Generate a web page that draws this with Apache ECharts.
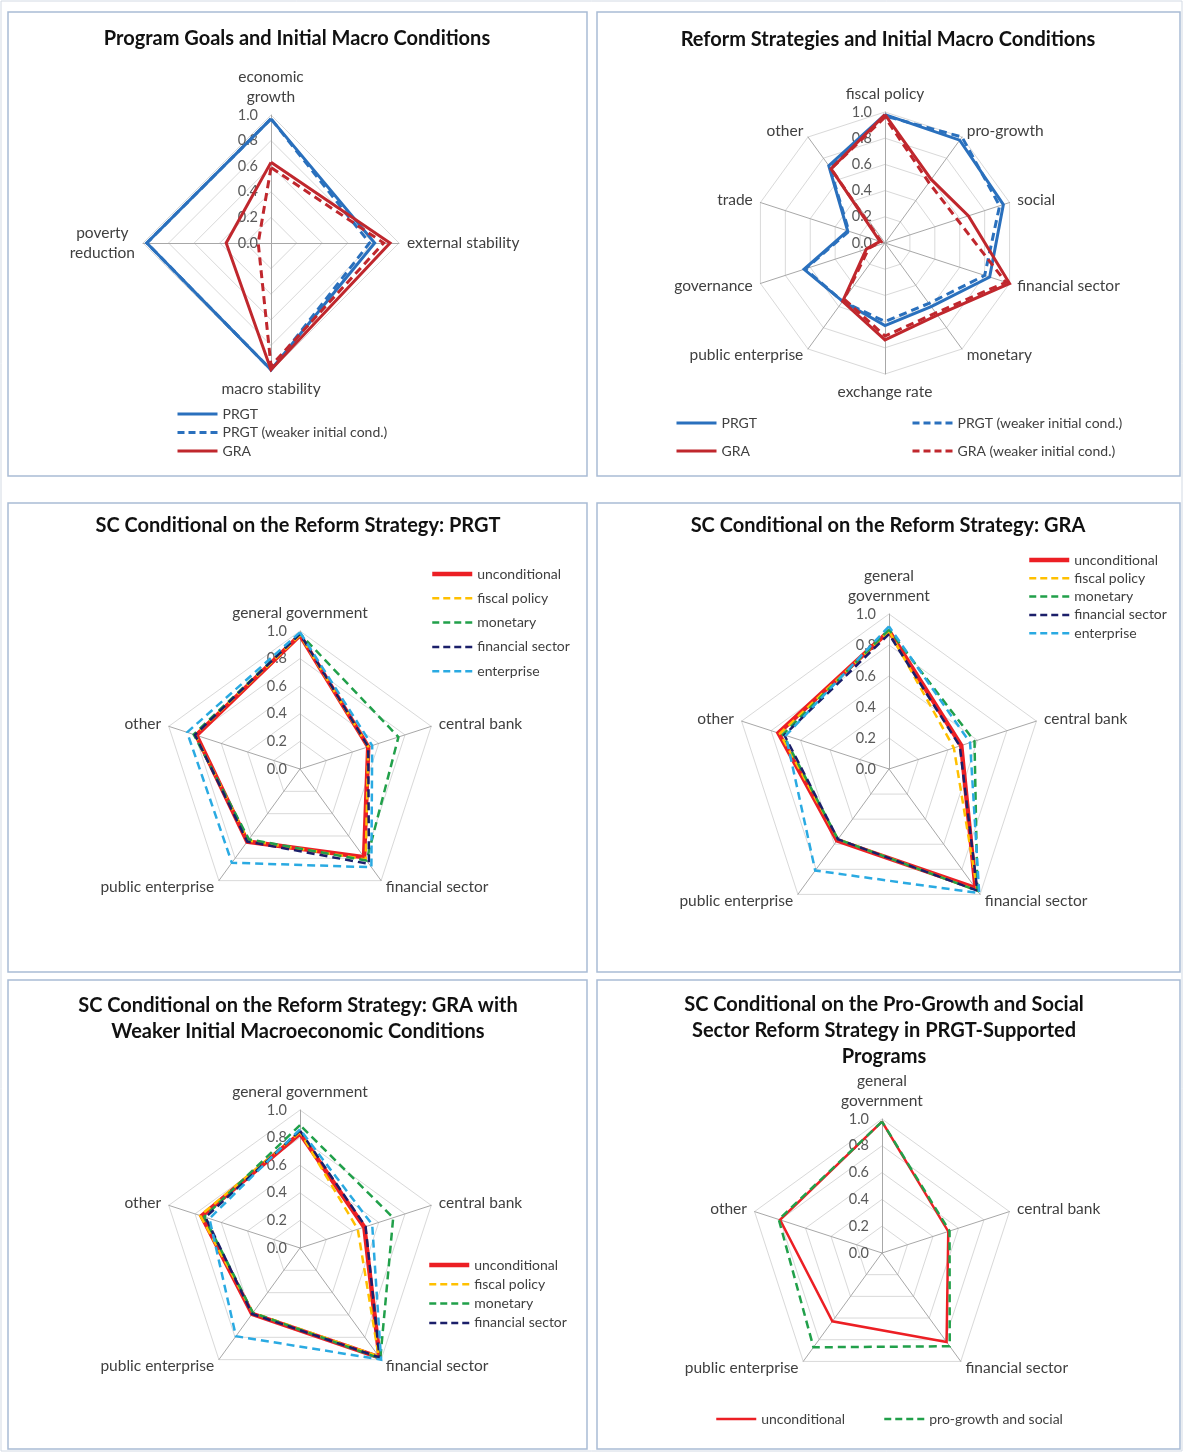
<!DOCTYPE html>
<html>
<head>
<meta charset="utf-8">
<title>Program Goals, Reform Strategies and Structural Conditionality</title>
<script src="https://cdn.jsdelivr.net/npm/echarts@6/dist/echarts.min.js"></script>
<style>
  html, body { margin: 0; padding: 0; background: #ffffff; }
  #chart { width: 1183px; height: 1452px; }
</style>
</head>
<body>
<div id="chart"></div>
<script>
// ---------- data (axes listed clockwise from the top) ----------
const goalAxes = ['economic\ngrowth', 'external stability', 'macro stability', 'poverty\nreduction'];
const goalPRGT = [0.97, 0.81, 0.99, 0.97];
const goalPRGTWeak = [0.97, 0.77, 0.99, 0.97];
const goalGRA = [0.63, 0.93, 0.99, 0.35];
const goalGRAWeak = [0.59, 0.88, 0.96, 0.10];

const reformAxes = ['fiscal policy', 'pro-growth', 'social', 'financial sector', 'monetary',
  'exchange rate', 'public enterprise', 'governance', 'trade', 'other'];
const reformPRGT = [0.98, 0.97, 0.95, 0.84, 0.60, 0.63, 0.55, 0.65, 0.30, 0.73];
const reformPRGTWeak = [0.97, 1.00, 0.92, 0.80, 0.57, 0.60, 0.55, 0.64, 0.29, 0.72];
const reformGRA = [0.98, 0.60, 0.67, 1.00, 0.68, 0.74, 0.55, 0.15, 0.04, 0.70];
const reformGRAWeak = [0.96, 0.57, 0.58, 0.97, 0.66, 0.71, 0.53, 0.13, 0.03, 0.70];

const scAxes = ['general government', 'central bank', 'financial sector', 'public enterprise', 'other'];
const scAxesWrapped = ['general\ngovernment', 'central bank', 'financial sector', 'public enterprise', 'other'];

const prgtUnconditional = [0.97, 0.52, 0.79, 0.65, 0.79];
const prgtFiscal = [0.97, 0.52, 0.81, 0.64, 0.80];
const prgtMonetary = [0.98, 0.75, 0.82, 0.63, 0.81];
const prgtFinancial = [0.98, 0.52, 0.85, 0.65, 0.80];
const prgtEnterprise = [0.99, 0.55, 0.88, 0.84, 0.86];

const graUnconditional = [0.89, 0.49, 0.95, 0.57, 0.75];
const graFiscal = [0.89, 0.44, 0.97, 0.56, 0.74];
const graMonetary = [0.90, 0.58, 0.97, 0.56, 0.72];
const graFinancial = [0.87, 0.48, 0.97, 0.56, 0.71];
const graEnterprise = [0.92, 0.55, 0.99, 0.81, 0.70];

const weakUnconditional = [0.83, 0.49, 0.98, 0.59, 0.75];
const weakFiscal = [0.84, 0.44, 0.97, 0.58, 0.76];
const weakMonetary = [0.89, 0.71, 0.99, 0.58, 0.73];
const weakFinancial = [0.85, 0.50, 0.98, 0.59, 0.72];
const weakEnterprise = [0.86, 0.55, 1.00, 0.79, 0.69];

const socialUnconditional = [0.98, 0.52, 0.82, 0.63, 0.80];
const socialProGrowth = [0.98, 0.53, 0.86, 0.87, 0.81];

const radarTicks = [0, 0.2, 0.4, 0.6, 0.8, 1.0];

// ---------- styling ----------
const FONT = 'Lato, "Open Sans", sans-serif';
const NAME_SIZE = 15.5;
const C = {
  blue: '#2a70bd', darkRed: '#c0272d', red: '#ec1f24', gold: '#ffc000',
  green: '#21a04a', navy: '#1b1f6a', cyan: '#2aaae2'
};
const DASH = [8, 5];

// ECharts lays indicators out counter-clockwise; keep the first axis on top
// and reverse the rest so the polygons run clockwise.
const cw = a => [a[0]].concat(a.slice(1).reverse());

// Two-line axis names are centred line by line.
const nameFormatter = name => name.indexOf('\n') < 0 ? name
  : name.split('\n').map(s => '{c|' + s + '}').join('\n');

function makeRadar(center, radius, axes) {
  return {
    center: center, radius: radius, startAngle: 90, shape: 'polygon',
    splitNumber: radarTicks.length - 1,
    nameGap: 8,
    indicator: cw(axes).map((name, i) => {
      const ind = { name: name, min: radarTicks[0], max: radarTicks[radarTicks.length - 1] };
      if (i === 0) {
        ind.axisLabel = {
          show: true, margin: 13, color: '#595959', fontFamily: FONT, fontSize: 14.5,
          formatter: v => Number(v).toFixed(1)
        };
      }
      return ind;
    }),
    axisName: {
      color: '#404040', fontFamily: FONT, fontSize: NAME_SIZE, lineHeight: 20,
      formatter: nameFormatter,
      rich: { c: { align: 'center', color: '#404040', fontFamily: FONT, fontSize: NAME_SIZE, lineHeight: 20 } }
    },
    axisLine: { lineStyle: { color: '#a8a8a8', width: 1 } },
    splitLine: { lineStyle: { color: '#d9d9d9', width: 1 } },
    splitArea: { show: false },
    axisTick: { show: false },
    axisLabel: { show: false }
  };
}

// One line per entry: [key, label, values, color, width, dashed]
const panels = [
  {
    radar: makeRadar([271, 243], 128, goalAxes),
    lines: [
      ['g|PRGT', 'PRGT', goalPRGT, C.blue, 3, false],
      ['g|PRGTw', 'PRGT (weaker initial cond.)', goalPRGTWeak, C.blue, 3, true],
      ['g|GRA', 'GRA', goalGRA, C.darkRed, 3, false],
      ['g|GRAw', 'GRA (weaker initial cond.)', goalGRAWeak, C.darkRed, 3, true]
    ],
    legends: [{ keys: ['g|PRGT', 'g|PRGTw', 'g|GRA'], left: 176, top: 406, gap: 2.5 }]
  },
  {
    radar: makeRadar([885, 243], 131, reformAxes),
    lines: [
      ['r|PRGT', 'PRGT', reformPRGT, C.blue, 3, false],
      ['r|PRGTw', 'PRGT (weaker initial cond.)', reformPRGTWeak, C.blue, 3, true],
      ['r|GRA', 'GRA', reformGRA, C.darkRed, 3, false],
      ['r|GRAw', 'GRA (weaker initial cond.)', reformGRAWeak, C.darkRed, 3, true]
    ],
    legends: [
      { keys: ['r|PRGT', 'r|GRA'], left: 675, top: 415, gap: 12 },
      { keys: ['r|PRGTw', 'r|GRAw'], left: 911, top: 415, gap: 12 }
    ]
  },
  {
    radar: makeRadar([300, 769], 138, scAxes),
    lines: [
      ['p|unc', 'unconditional', prgtUnconditional, C.red, 4.5, false],
      ['p|fis', 'fiscal policy', prgtFiscal, C.gold, 2.5, true],
      ['p|mon', 'monetary', prgtMonetary, C.green, 2.5, true],
      ['p|fin', 'financial sector', prgtFinancial, C.navy, 2.5, true],
      ['p|ent', 'enterprise', prgtEnterprise, C.cyan, 2.5, true]
    ],
    legends: [{ keys: ['p|unc', 'p|fis', 'p|mon', 'p|fin', 'p|ent'], left: 430, top: 566, gap: 8.3 }]
  },
  {
    radar: makeRadar([889, 769], 155, scAxesWrapped),
    lines: [
      ['a|unc', 'unconditional', graUnconditional, C.red, 4.5, false],
      ['a|fis', 'fiscal policy', graFiscal, C.gold, 2.5, true],
      ['a|mon', 'monetary', graMonetary, C.green, 2.5, true],
      ['a|fin', 'financial sector', graFinancial, C.navy, 2.5, true],
      ['a|ent', 'enterprise', graEnterprise, C.cyan, 2.5, true]
    ],
    legends: [{ keys: ['a|unc', 'a|fis', 'a|mon', 'a|fin', 'a|ent'], left: 1027, top: 552, gap: 2.3 }]
  },
  {
    radar: makeRadar([300, 1248], 138, scAxes),
    lines: [
      ['w|unc', 'unconditional', weakUnconditional, C.red, 4.5, false],
      ['w|fis', 'fiscal policy', weakFiscal, C.gold, 2.5, true],
      ['w|mon', 'monetary', weakMonetary, C.green, 2.5, true],
      ['w|fin', 'financial sector', weakFinancial, C.navy, 2.5, true],
      ['w|ent', 'enterprise', weakEnterprise, C.cyan, 2.5, true]
    ],
    legends: [{ keys: ['w|unc', 'w|fis', 'w|mon', 'w|fin'], left: 427, top: 1257, gap: 3.3 }]
  },
  {
    radar: makeRadar([882, 1253], 134, scAxesWrapped),
    lines: [
      ['s|unc', 'unconditional', socialUnconditional, C.red, 2.5, false],
      ['s|pgs', 'pro-growth and social', socialProGrowth, C.green, 2.5, true]
    ],
    legends: [{ keys: ['s|unc', 's|pgs'], left: 715, top: 1411, gap: 38, orient: 'horizontal' }]
  }
];

const titles = [
  { text: 'Program Goals and Initial Macro Conditions', x: 297, y: 39 },
  { text: 'Reform Strategies and Initial Macro Conditions', x: 888, y: 40 },
  { text: 'SC Conditional on the Reform Strategy: PRGT', x: 298, y: 526 },
  { text: 'SC Conditional on the Reform Strategy: GRA', x: 888, y: 526 },
  { text: 'SC Conditional on the Reform Strategy: GRA with\nWeaker Initial Macroeconomic Conditions', x: 298, y: 1019 },
  { text: 'SC Conditional on the Pro-Growth and Social\nSector Reform Strategy in PRGT-Supported\nPrograms', x: 884, y: 1031 }
];

const frames = [
  [8, 12, 579, 464], [597, 12, 583, 464],
  [8, 503, 579, 469], [597, 503, 583, 469],
  [8, 980, 579, 469], [597, 980, 583, 469]
];

// ---------- assemble options ----------
const radars = [];
const series = [];
const legends = [];
const lineByKey = {};

panels.forEach((p, ri) => {
  radars.push(p.radar);
  p.lines.forEach((ln, li) => {
    const [key, label, values, color, width, dashed] = ln;
    lineByKey[key] = ln;
    series.push({
      type: 'radar', radarIndex: ri, name: key, symbol: 'none', z: 2 + li,
      silent: true,
      lineStyle: { color: color, width: width, type: dashed ? DASH : 'solid', join: 'miter' },
      itemStyle: { color: color },
      data: [{ name: key, value: cw(values) }]
    });
  });
  p.legends.forEach(lg => {
    legends.push({
      orient: lg.orient || 'vertical', left: lg.left, top: lg.top, itemGap: lg.gap,
      itemWidth: 40, itemHeight: 10, selectedMode: false, padding: 0,
      textStyle: { fontFamily: FONT, fontSize: 14, color: '#404040', lineHeight: 16 },
      formatter: n => lineByKey[n][1],
      data: lg.keys.map(k => {
        const ln = lineByKey[k];
        return {
          name: k,
          icon: 'path://M0,5L40,5M0,0M0,10',
          itemStyle: {
            color: 'transparent', borderColor: ln[3], borderWidth: ln[4],
            borderType: ln[5] ? [7, 4] : 'solid'
          }
        };
      })
    });
  });
});

const graphics = [
  { type: 'rect', shape: { x: 1, y: 1, width: 1181, height: 1450 }, silent: true,
    style: { fill: 'none', stroke: '#d3dae4', lineWidth: 1 } }
].concat(frames.map(f => ({
  type: 'rect', shape: { x: f[0], y: f[1], width: f[2], height: f[3] }, silent: true,
  style: { fill: 'none', stroke: '#a9bcd5', lineWidth: 1.5 }
}))).concat(titles.map(t => ({
  type: 'text', x: t.x, y: t.y, silent: true,
  style: {
    text: t.text, fill: '#111111', fontFamily: FONT, fontWeight: 'bold', fontSize: 20,
    align: 'center', verticalAlign: 'middle', lineHeight: 26
  }
})));

const chart = echarts.init(document.getElementById('chart'), null, { renderer: 'canvas' });
chart.setOption({
  backgroundColor: '#ffffff',
  animation: false,
  radar: radars,
  legend: legends,
  series: series,
  graphic: graphics
});
</script>
</body>
</html>
